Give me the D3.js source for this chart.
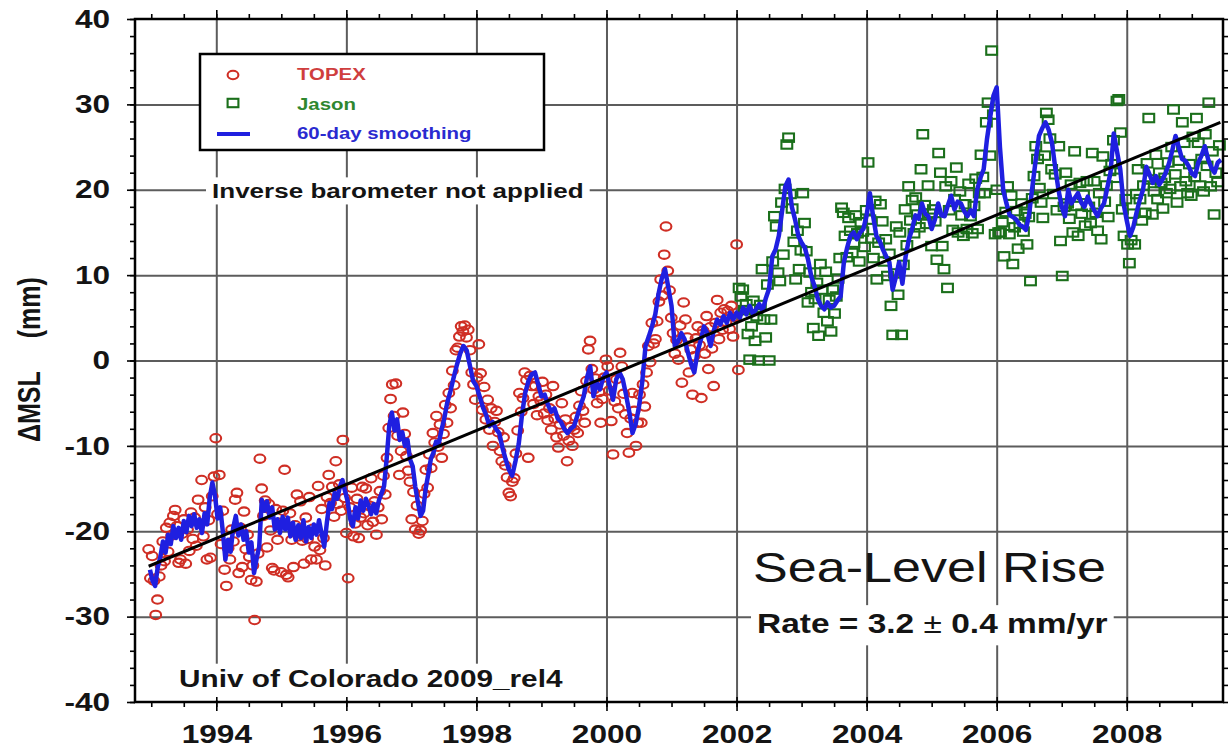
<!DOCTYPE html>
<html>
<head>
<meta charset="utf-8">
<script src="https://cdn.jsdelivr.net/npm/d3@7"></script>
<style>
  html, body { margin: 0; padding: 0; background: #fff; }
  svg { display: block; font-family: "Liberation Sans", Arial, Helvetica, sans-serif; }
</style>
</head>
<body>
<div id="chart"></div>
<script>
// One altimeter value per ~10-day repeat cycle (mm)
const cycleYears = 0.02715;

const topexStart = 1992.96;
const topexMSL = [
  -22.1,-25.5,-22.9,-25.8,-29.8,-28.0,-25.3,-24.0,-21.2,-23.5,-19.6,-22.4,-19.0,-20.5,-18.2,-17.5,-19.4,-23.7,-23.3,-20.3,-18.6,-23.8,-19.8,-22.3,-17.8,-20.9,-18.4,-21.7,-16.3,-19.1,-14.0,-20.6,-17.2,-23.3,-18.7,-23.1,-15.9,
  -13.6,-9.1,-18.0,-13.4,-21.5,-17.6,-24.5,-26.4,-22.0,-23.3,-19.8,-21.2,-16.3,-15.5,-24.9,-19.6,-24.2,-17.7,-22.1,-20.4,-23.0,-25.7,-24.0,-30.4,-25.9,-22.6,-11.5,-15.0,-18.2,-16.4,-21.9,-16.8,-19.9,-24.3,-24.6,-17.4,-21.0,
  -19.0,-24.8,-17.6,-12.8,-25.1,-25.4,-17.9,-21.0,-24.2,-19.3,-15.7,-20.6,-16.5,-21.1,-23.8,-18.4,-20.9,-16.0,-23.3,-19.7,-21.8,-23.3,-14.7,-22.2,-17.4,-20.8,-24.0,-16.0,-13.4,-16.7,-14.8,-18.3,-11.8,-16.8,-14.5,-17.6,-9.3,
  -16.1,-20.2,-25.5,-17.2,-14.9,-20.6,-19.1,-16.2,-20.8,-18.4,-14.8,-17.9,-15.0,-19.3,-17.0,-13.8,-18.9,-16.5,-20.4,-17.2,-15.3,-18.6,-13.5,-15.7,-11.4,-7.9,-4.5,-2.8,-6.5,-2.7,-8.8,-13.4,-10.6,-6.1,-8.6,-11.2,-12.9,
  -14.2,-18.6,-15.4,-19.8,-17.0,-20.3,-19.9,-18.8,-15.6,-12.8,-14.9,-11.0,-12.6,-8.5,-9.6,-6.5,-10.1,-7.5,-11.4,-8.6,-5.2,-7.3,-3.8,-5.6,-1.2,-2.9,1.2,1.5,2.8,4.0,3.4,4.1,2.7,3.6,1.2,-1.4,-2.8,
  -4.6,-2.0,1.9,-1.5,-5.8,-3.1,-6.9,-4.6,-8.1,-5.6,-10.0,-7.2,-5.9,-8.4,-10.6,-11.8,-9.0,-12.3,-13.7,-15.5,-15.9,-14.2,-13.8,-10.9,-8.2,-3.8,-6.0,-4.4,-1.4,-2.3,-11.4,-1.8,-3.0,-5.1,-3.0,-6.4,-4.2,
  -4.7,-2.5,-6.2,-4.0,-7.0,-5.6,-8.1,-3.0,-6.8,-9.0,-10.2,-7.5,-5.0,-8.8,-6.9,-11.8,-9.4,-7.8,-10.0,-8.1,-6.6,-8.5,-5.3,-3.6,-5.9,-7.3,-2.4,1.3,2.3,-1.0,-3.4,-2.1,-5.0,-3.7,-7.3,-4.5,-2.0,
  0.1,-0.7,-3.5,-7.1,-11.0,-4.8,-2.2,-5.6,0.9,-0.7,-3.9,-6.3,-8.5,-10.8,-6.8,-3.8,-5.9,-10.0,-7.3,-4.0,-7.3,-2.8,-5.4,-1.4,1.7,-0.2,4.4,2.0,2.5,4.6,6.9,9.5,7.6,12.4,15.7,10.5,8.2,
  5.0,3.2,0.8,2.4,0.1,4.1,-2.6,6.8,4.8,2.7,-1.4,1.3,-4.0,0.5,2.6,4.0,1.8,-4.4,3.5,0.8,5.2,-1.0,3.9,1.4,-3.0,4.4,7.1,2.5,5.6,3.6,6.0,4.5,5.8,3.7,6.4,2.8,5.1,13.6,-1.1
];

const jasonStart = 2002.04;
const jasonMSL = [
  8.5,7.5,8.3,5.9,6.6,3.1,0.1,4.0,7.0,2.3,5.2,0.0,6.5,10.7,4.8,2.7,8.9,0.0,4.8,11.6,16.9,15.7,10.3,9.3,18.5,12.4,20.1,25.3,26.1,19.5,17.8,13.9,9.5,15.2,10.7,12.9,19.6,
  16.1,12.8,6.8,10.3,8.0,3.8,7.2,9.1,2.9,11.3,8.3,5.6,10.4,4.6,7.1,3.4,8.3,5.5,7.5,9.6,12.0,17.9,17.3,14.6,12.1,16.7,15.2,12.6,13.8,17.0,14.9,11.6,16.2,15.1,13.3,17.6,23.2,
  16.5,14.3,12.0,18.7,9.5,13.8,18.3,16.3,11.6,14.2,9.9,12.5,6.4,3.0,10.2,15.7,7.7,15.0,3.0,11.2,17.7,13.5,20.4,16.4,18.8,14.9,19.1,17.1,15.6,22.4,26.5,18.2,16.0,20.5,17.2,13.4,17.7,
  16.3,11.8,24.3,22.0,13.4,10.7,20.4,8.5,17.6,21.0,15.3,18.9,22.6,15.0,19.8,17.0,14.6,18.3,15.4,20.7,16.9,14.9,18.1,21.3,15.4,19.6,24.1,21.5,19.6,27.9,30.2,24.0,36.3,28.8,14.8,20.0,15.0,
  15.0,16.2,12.2,17.4,20.4,14.8,19.3,11.3,15.6,17.5,13.1,16.0,18.4,15.1,17.2,13.6,16.8,9.3,19.0,21.6,25.1,23.6,20.2,18.5,16.7,24.0,29.0,28.2,26.0,22.4,19.5,21.8,17.6,25.1,14.0,9.9,18.0,
  22.0,18.4,16.6,20.6,15.0,24.5,18.1,14.6,20.8,17.2,19.4,15.8,21.0,18.0,16.1,24.3,21.0,17.3,15.2,19.6,14.2,23.9,18.6,20.5,16.8,22.2,23.0,25.8,21.4,30.4,30.6,26.7,17.7,14.6,18.9,13.6,11.4,
  14.1,17.2,13.6,19.5,22.4,18.9,16.4,20.5,17.3,23.1,28.4,21.2,17.1,19.8,24.1,18.9,22.0,20.8,17.8,21.4,19.6,23.2,20.1,25.0,29.4,21.8,18.5,23.4,20.4,27.9,25.5,21.0,19.6,23.0,19.3,26.2,21.5,
  28.4,25.5,20.5,23.6,19.8,26.5,22.8,30.2,20.4,24.5,17.1,22.0,20.9,25.2
];

// 60-day smoothed series, [year, mm]
const smoothing60 = [
  [1992.98,-24.5],[1993.02,-25.8],[1993.06,-26.4],[1993.10,-24.2],[1993.14,-23.0],[1993.18,-21.2],[1993.22,-22.5],[1993.26,-20.4],
  [1993.30,-21.5],[1993.34,-19.4],[1993.38,-20.8],[1993.42,-19.6],[1993.46,-21.0],[1993.50,-18.8],[1993.54,-20.1],[1993.58,-18.2],
  [1993.62,-19.4],[1993.66,-18.0],[1993.70,-19.6],[1993.74,-18.6],[1993.78,-20.2],[1993.82,-17.9],[1993.86,-19.2],[1993.90,-16.0],
  [1993.94,-14.3],[1993.98,-15.8],[1994.02,-18.5],[1994.06,-17.2],[1994.10,-20.0],[1994.14,-23.3],[1994.18,-21.0],[1994.22,-22.4],
  [1994.26,-19.6],[1994.30,-18.2],[1994.34,-20.5],[1994.38,-19.2],[1994.42,-21.0],[1994.46,-20.0],[1994.50,-22.5],[1994.54,-21.3],
  [1994.58,-24.9],[1994.62,-23.2],[1994.66,-21.8],[1994.70,-16.3],[1994.74,-17.6],[1994.78,-16.5],[1994.82,-18.4],[1994.86,-17.2],
  [1994.90,-19.8],[1994.94,-18.6],[1994.98,-20.2],[1995.02,-18.3],[1995.06,-19.8],[1995.10,-18.4],[1995.14,-20.6],[1995.18,-19.0],
  [1995.22,-21.0],[1995.26,-19.3],[1995.30,-20.8],[1995.34,-18.7],[1995.38,-21.2],[1995.42,-19.5],[1995.46,-20.8],[1995.50,-19.2],
  [1995.54,-20.4],[1995.58,-18.7],[1995.62,-20.3],[1995.66,-21.8],[1995.70,-19.0],[1995.74,-16.7],[1995.78,-17.4],[1995.82,-15.5],
  [1995.86,-16.2],[1995.90,-14.8],[1995.94,-14.0],[1995.98,-15.3],[1996.02,-16.5],[1996.06,-18.6],[1996.10,-19.4],[1996.14,-17.2],
  [1996.18,-18.5],[1996.22,-16.4],[1996.26,-17.6],[1996.30,-16.2],[1996.34,-17.0],[1996.38,-18.0],[1996.42,-16.8],[1996.46,-17.9],
  [1996.50,-16.4],[1996.54,-15.6],[1996.58,-14.7],[1996.62,-11.5],[1996.66,-7.6],[1996.70,-6.1],[1996.74,-8.2],[1996.78,-6.9],
  [1996.82,-9.3],[1996.86,-8.4],[1996.90,-10.0],[1996.94,-9.3],[1996.98,-11.6],[1997.02,-12.4],[1997.06,-14.8],[1997.10,-16.6],
  [1997.14,-18.2],[1997.18,-17.6],[1997.22,-15.0],[1997.26,-13.3],[1997.30,-11.5],[1997.34,-10.8],[1997.38,-9.5],[1997.42,-9.8],
  [1997.46,-8.2],[1997.50,-7.0],[1997.55,-5.0],[1997.60,-3.6],[1997.65,-2.0],[1997.70,-0.5],[1997.75,0.8],[1997.80,1.7],
  [1997.85,1.2],[1997.90,-0.6],[1997.95,-2.4],[1998.00,-3.0],[1998.05,-4.2],[1998.10,-5.5],[1998.15,-6.4],[1998.20,-7.7],
  [1998.25,-7.2],[1998.30,-8.0],[1998.35,-8.5],[1998.40,-10.2],[1998.45,-11.6],[1998.50,-12.8],[1998.55,-13.5],[1998.60,-11.8],
  [1998.65,-9.8],[1998.70,-6.4],[1998.75,-3.8],[1998.80,-2.4],[1998.85,-1.6],[1998.90,-1.4],[1998.95,-2.8],[1999.00,-4.2],
  [1999.05,-4.0],[1999.10,-5.2],[1999.15,-6.0],[1999.20,-5.6],[1999.25,-6.8],[1999.30,-7.2],[1999.35,-8.0],[1999.40,-8.5],
  [1999.45,-8.0],[1999.50,-7.7],[1999.55,-6.5],[1999.60,-5.3],[1999.65,-4.2],[1999.70,-2.0],[1999.75,-0.7],[1999.80,-4.2],
  [1999.85,-2.6],[1999.90,-3.4],[1999.95,-2.0],[2000.00,-1.4],[2000.05,-3.0],[2000.10,-4.6],[2000.15,-2.2],[2000.20,-1.4],
  [2000.25,-2.2],[2000.30,-4.0],[2000.35,-6.0],[2000.40,-8.5],[2000.45,-7.4],[2000.50,-5.4],[2000.55,-2.5],[2000.60,1.7],
  [2000.65,2.8],[2000.70,4.0],[2000.75,5.4],[2000.80,7.8],[2000.85,9.6],[2000.90,10.7],[2000.95,8.6],[2001.00,6.4],
  [2001.05,1.7],[2001.10,2.2],[2001.15,3.2],[2001.20,2.5],[2001.25,1.0],[2001.30,-0.4],[2001.35,-1.4],[2001.40,1.0],
  [2001.45,2.4],[2001.50,4.0],[2001.55,3.2],[2001.60,1.7],[2001.65,3.5],[2001.70,4.8],[2001.75,4.2],[2001.80,5.2],
  [2001.85,4.4],[2001.90,5.6],[2001.95,4.8],[2002.00,5.6],[2002.05,5.0],[2002.10,6.2],[2002.15,5.4],[2002.20,6.4],
  [2002.25,5.5],[2002.30,6.0],[2002.35,6.6],[2002.40,5.8],[2002.45,7.3],[2002.50,8.4],[2002.55,12.2],[2002.60,13.0],
  [2002.65,14.6],[2002.70,17.5],[2002.75,20.4],[2002.80,21.2],[2002.85,18.0],[2002.90,16.5],[2002.95,14.6],[2003.00,13.8],
  [2003.05,13.2],[2003.10,11.8],[2003.15,9.8],[2003.20,8.7],[2003.25,7.2],[2003.30,6.4],[2003.35,6.0],[2003.40,6.8],
  [2003.45,6.2],[2003.50,6.4],[2003.55,7.0],[2003.60,7.5],[2003.65,11.5],[2003.70,13.2],[2003.75,14.6],[2003.80,15.0],
  [2003.85,14.2],[2003.90,15.0],[2003.95,15.4],[2004.00,17.0],[2004.05,19.6],[2004.10,16.9],[2004.15,14.6],[2004.20,14.0],
  [2004.25,13.0],[2004.30,12.2],[2004.35,11.5],[2004.40,8.3],[2004.45,9.8],[2004.50,11.5],[2004.55,9.0],[2004.60,12.2],
  [2004.65,14.2],[2004.70,15.4],[2004.75,17.0],[2004.80,16.6],[2004.85,18.4],[2004.90,17.2],[2004.95,16.9],[2005.00,15.4],
  [2005.05,16.5],[2005.10,18.4],[2005.15,17.0],[2005.20,16.9],[2005.25,18.2],[2005.30,19.3],[2005.35,17.7],[2005.40,18.6],
  [2005.45,18.4],[2005.50,17.5],[2005.55,16.9],[2005.60,17.6],[2005.65,16.9],[2005.70,20.0],[2005.75,21.4],[2005.80,22.4],
  [2005.85,25.9],[2005.90,28.5],[2005.95,31.0],[2006.00,32.0],[2006.05,25.0],[2006.10,20.0],[2006.15,18.4],[2006.20,17.0],
  [2006.25,16.8],[2006.30,16.5],[2006.35,15.9],[2006.40,15.7],[2006.45,15.3],[2006.50,17.2],[2006.55,20.4],[2006.60,23.5],
  [2006.65,26.3],[2006.70,27.2],[2006.75,27.9],[2006.80,27.0],[2006.85,25.5],[2006.90,22.6],[2006.95,20.0],[2007.00,18.0],
  [2007.05,16.9],[2007.10,20.0],[2007.15,18.4],[2007.20,19.0],[2007.25,19.6],[2007.30,18.5],[2007.35,18.0],[2007.40,19.2],
  [2007.45,18.3],[2007.50,17.6],[2007.55,16.9],[2007.60,17.8],[2007.65,18.4],[2007.70,20.2],[2007.75,22.0],[2007.80,26.6],
  [2007.85,24.5],[2007.90,22.4],[2007.95,18.4],[2008.00,16.4],[2008.05,14.6],[2008.10,15.6],[2008.15,17.3],[2008.20,18.8],
  [2008.25,20.0],[2008.30,22.7],[2008.35,21.8],[2008.40,20.8],[2008.45,21.6],[2008.50,20.6],[2008.55,21.2],[2008.60,22.0],
  [2008.65,23.1],[2008.70,24.6],[2008.75,26.3],[2008.80,25.0],[2008.85,23.6],[2008.90,23.4],[2008.95,22.8],[2009.00,21.9],
  [2009.05,21.6],[2009.10,23.2],[2009.15,24.0],[2009.20,25.1],[2009.25,23.6],[2009.30,22.6],[2009.35,22.0],[2009.40,23.2],
  [2009.45,23.5]
];

// linear fit end points
const trendYears = [1992.96, 2009.44];
const trendMSL = [-24.1, 27.9];

const xTicks = [1994, 1996, 1998, 2000, 2002, 2004, 2006, 2008];
const yTicks = [-40, -30, -20, -10, 0, 10, 20, 30, 40];
const yGrid = [-30, -20, -10, 0, 10, 20, 30];

const W = 1230, H = 747;
const plot = { left: 135, right: 1223, top: 19, bottom: 702 };
const textStretch = 1.24;

const colors = {
  topex: '#cf2e24',
  jason: '#1b6f1b',
  smooth: '#1f1fe0',
  grid: '#5c5c5c',
  ink: '#141414'
};

const svg = d3.select('#chart').append('svg')
  .attr('width', W)
  .attr('height', H);

svg.append('rect').attr('width', W).attr('height', H).attr('fill', '#fff');

const x = d3.scaleLinear().domain([1992.75, 2009.48]).range([plot.left, plot.right]);
const y = d3.scaleLinear().domain([-40, 40]).range([plot.bottom, plot.top]);

// grid
svg.append('g')
  .attr('transform', `translate(0,${plot.bottom})`)
  .call(d3.axisBottom(x).tickValues(xTicks).tickSize(-(plot.bottom - plot.top)).tickFormat(''))
  .call(g => g.select('.domain').remove())
  .selectAll('line')
  .attr('stroke', colors.grid)
  .attr('stroke-width', 2);

svg.append('g')
  .attr('transform', `translate(${plot.left},0)`)
  .call(d3.axisLeft(y).tickValues(yGrid).tickSize(-(plot.right - plot.left)).tickFormat(''))
  .call(g => g.select('.domain').remove())
  .selectAll('line')
  .attr('stroke', colors.grid)
  .attr('stroke-width', 2);

// annotation text, stretched sideways like the source image
const notes = svg.append('g').attr('fill', colors.ink);

function note(str, px, py, size, weight) {
  return notes.append('text')
    .attr('transform', `translate(${px},${py}) scale(${textStretch},1)`)
    .attr('font-size', size)
    .attr('font-weight', weight)
    .text(str);
}

function whiteBehind(sel, padX, padTop, padBottom) {
  const node = sel.node();
  const b = node.getBoundingClientRect();
  d3.select(node.parentNode).insert('rect', () => node)
    .attr('x', b.left - padX)
    .attr('y', b.top - padTop)
    .attr('width', b.width + padX * 2)
    .attr('height', b.height + padTop + padBottom)
    .attr('fill', '#fff');
}

const baroNote = note('Inverse barometer not applied', 212, 198, 21, 'bold');
whiteBehind(baroNote, 6, 2, 2);

const univNote = note('Univ of Colorado 2009_rel4', 179, 687, 24, 'bold');
whiteBehind(univNote, 8, 2, 8);

note('Sea-Level Rise', 753, 582, 42, 'normal');

const rateNote = note('Rate = 3.2 ', 757, 633, 27, 'bold');
rateNote.append('tspan').attr('font-weight', 'normal').text('±');
rateNote.append('tspan').text(' 0.4 mm/yr');
whiteBehind(rateNote, 6, 3, 7);

// data
const topexPoints = topexMSL.map((v, i) => ({ year: topexStart + i * cycleYears, msl: v }));
const jasonPoints = jasonMSL.map((v, i) => ({ year: jasonStart + i * cycleYears, msl: v }));

const rx = 5.4, ry = 4.2;

svg.append('g')
  .selectAll('ellipse')
  .data(topexPoints)
  .join('ellipse')
  .attr('cx', d => x(d.year))
  .attr('cy', d => y(d.msl))
  .attr('rx', rx)
  .attr('ry', ry)
  .attr('fill', 'none')
  .attr('stroke', colors.topex)
  .attr('stroke-width', 2.1);

svg.append('g')
  .selectAll('rect')
  .data(jasonPoints)
  .join('rect')
  .attr('x', d => x(d.year) - rx)
  .attr('y', d => y(d.msl) - ry)
  .attr('width', rx * 2)
  .attr('height', ry * 2)
  .attr('fill', 'none')
  .attr('stroke', colors.jason)
  .attr('stroke-width', 2.1);

const line = d3.line()
  .x(d => x(d[0]))
  .y(d => y(d[1]));

svg.append('path')
  .attr('d', line(smoothing60))
  .attr('fill', 'none')
  .attr('stroke', colors.smooth)
  .attr('stroke-width', 4.5)
  .attr('stroke-linejoin', 'round');

svg.append('path')
  .attr('d', line(trendYears.map((t, i) => [t, trendMSL[i]])))
  .attr('fill', 'none')
  .attr('stroke', '#000')
  .attr('stroke-width', 3);

// axes
const xMinor = d3.range(1993, 2009.5, 0.5);
const yMinor = d3.range(-40, 41, 2);

function tickStyle(g) {
  g.select('.domain').remove();
  g.selectAll('line').attr('stroke', '#000').attr('stroke-width', 1.6);
}

svg.append('g')
  .attr('transform', `translate(0,${plot.bottom})`)
  .call(d3.axisBottom(x).tickValues(xMinor).tickSize(5).tickFormat(''))
  .call(tickStyle);

svg.append('g')
  .attr('transform', `translate(0,${plot.bottom})`)
  .call(d3.axisBottom(x).tickValues(xTicks).tickSize(-5).tickFormat(''))
  .call(tickStyle);

const xAxis = svg.append('g')
  .attr('transform', `translate(0,${plot.bottom})`)
  .call(d3.axisBottom(x).tickValues(xTicks).tickSize(9).tickPadding(14).tickFormat(d => String(d)))
  .call(tickStyle);

svg.append('g')
  .attr('transform', `translate(0,${plot.top})`)
  .call(d3.axisTop(x).tickValues(xMinor).tickSize(5).tickFormat(''))
  .call(tickStyle);

svg.append('g')
  .attr('transform', `translate(0,${plot.top})`)
  .call(d3.axisTop(x).tickValues(xTicks).tickSize(9).tickFormat(''))
  .call(tickStyle);

svg.append('g')
  .attr('transform', `translate(${plot.left},0)`)
  .call(d3.axisLeft(y).tickValues(yMinor).tickSize(5).tickFormat(''))
  .call(tickStyle);

const yAxis = svg.append('g')
  .attr('transform', `translate(${plot.left},0)`)
  .call(d3.axisLeft(y).tickValues(yTicks).tickSize(8).tickPadding(12).tickFormat(d => String(d)))
  .call(tickStyle);

svg.append('g')
  .attr('transform', `translate(${plot.right},0)`)
  .call(d3.axisRight(y).tickValues(yMinor).tickSize(5).tickFormat(''))
  .call(tickStyle);

[xAxis, yAxis].forEach(a => {
  a.attr('font-family', null).attr('font-size', null);
  a.selectAll('text')
    .attr('font-size', 25.5)
    .attr('font-weight', 'bold')
    .attr('fill', colors.ink)
    .attr('transform', `scale(${textStretch},1)`);
});

svg.append('rect')
  .attr('x', plot.left)
  .attr('y', plot.top)
  .attr('width', plot.right - plot.left)
  .attr('height', plot.bottom - plot.top)
  .attr('fill', 'none')
  .attr('stroke', '#000')
  .attr('stroke-width', 2.5);

// y axis title
svg.append('text')
  .attr('transform', 'translate(40,442) rotate(-90) scale(1,1.25)')
  .attr('font-size', 25)
  .attr('font-weight', 'bold')
  .attr('fill', colors.ink)
  .text('ΔMSL')
  .append('tspan')
  .attr('dx', 33)
  .text('(mm)');

// legend
const legend = svg.append('g');

legend.append('rect')
  .attr('x', 200)
  .attr('y', 54)
  .attr('width', 344)
  .attr('height', 96)
  .attr('fill', '#fff')
  .attr('stroke', '#000')
  .attr('stroke-width', 2.5);

legend.append('ellipse')
  .attr('cx', 233).attr('cy', 75)
  .attr('rx', rx).attr('ry', ry)
  .attr('fill', 'none')
  .attr('stroke', colors.topex)
  .attr('stroke-width', 2.1);

legend.append('rect')
  .attr('x', 233 - rx).attr('y', 103 - ry)
  .attr('width', rx * 2).attr('height', ry * 2)
  .attr('fill', 'none')
  .attr('stroke', colors.jason)
  .attr('stroke-width', 2.1);

legend.append('line')
  .attr('x1', 217).attr('x2', 250)
  .attr('y1', 134).attr('y2', 134)
  .attr('stroke', colors.smooth)
  .attr('stroke-width', 4);

const legendItems = [
  { label: 'TOPEX', color: '#cf3e3e', y: 80 },
  { label: 'Jason', color: '#2f872f', y: 109.5 },
  { label: '60-day smoothing', color: '#2a2ad0', y: 139 }
];

legend.selectAll('text.item')
  .data(legendItems)
  .join('text')
  .attr('class', 'item')
  .attr('transform', d => `translate(297,${d.y}) scale(1.2,1)`)
  .attr('font-size', 17)
  .attr('font-weight', 'bold')
  .attr('fill', d => d.color)
  .text(d => d.label);
</script>
</body>
</html>
